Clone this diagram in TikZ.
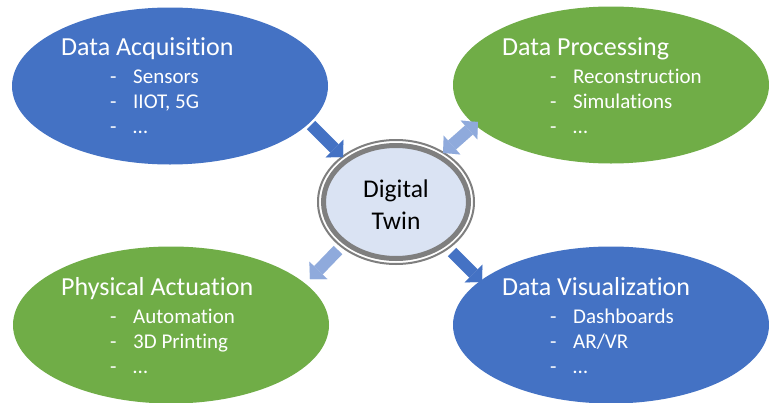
\documentclass[tikz,border=0pt]{standalone}
\usepackage{fontspec}
\setmainfont{Carlito}[Ligatures=NoCommon]
\usetikzlibrary{arrows.meta,shapes.geometric}
\definecolor{dblue}{HTML}{4472C4}
\definecolor{dgreen}{HTML}{70AD47}
\definecolor{lblue}{HTML}{8FAADC}
\definecolor{pale}{HTML}{DAE3F3}
\definecolor{ringgray}{HTML}{7F7F7F}
\begin{document}
\begin{tikzpicture}[x=1pt,y=-1pt,
  blob/.style={ellipse, inner sep=0pt, minimum width=316pt, minimum height=157pt, draw=none},
  ttl/.style={anchor=base west, inner sep=0pt, text=white, font=\fontsize{26}{30}\selectfont},
  itm/.style={anchor=base west, inner sep=0pt, text=white, font=\fontsize{21}{25}\selectfont},
  dtxt/.style={anchor=base, inner sep=0pt, text=black, font=\fontsize{25.5}{30}\selectfont},
  barrow/.style={line width=12pt, -{Triangle[length=12pt,width=25pt,line width=0.01pt]}},
  dbarrow/.style={line width=12pt, {Triangle[length=12pt,width=25pt,line width=0.01pt]}-{Triangle[length=12pt,width=25pt,line width=0.01pt]}}
]
\useasboundingbox (0,0) rectangle (769,402);
\fill[white] (0,0) rectangle (769,402);

% outer ellipses
\node[blob, fill=dblue]  (acq) at (170,86)  {};
\node[blob, fill=dgreen] (proc) at (611,85) {};
\node[blob, fill=dgreen] (act) at (171,325) {};
\node[blob, fill=dblue]  (vis) at (611,325) {};

% texts
\node[ttl] (acqT) at (61,55) {Data Acquisition};
\node[itm] (acq1) at (110,83)  {\makebox[23pt][l]{-}Sensors};
\node[itm] (acq2) at (110,108) {\makebox[23pt][l]{-}IIOT, 5G};
\node[itm] (acq3) at (110,133) {\makebox[23pt][l]{-}…};

\node[ttl] (procT) at (502,55) {Data Processing};
\node[itm] (proc1) at (550,83)  {\makebox[23pt][l]{-}Reconstruction};
\node[itm] (proc2) at (550,108) {\makebox[23pt][l]{-}Simulations};
\node[itm] (proc3) at (550,133) {\makebox[23pt][l]{-}…};

\node[ttl] (actT) at (61,295) {Physical Actuation};
\node[itm] (act1) at (110,323) {\makebox[23pt][l]{-}Automation};
\node[itm] (act2) at (110,348) {\makebox[23pt][l]{-}3D Printing};
\node[itm] (act3) at (110,373) {\makebox[23pt][l]{-}…};

\node[ttl] (visT) at (502,295) {Data Visualization};
\node[itm] (vis1) at (550,323) {\makebox[23pt][l]{-}Dashboards};
\node[itm] (vis2) at (550,348) {\makebox[23pt][l]{-}AR/VR};
\node[itm] (vis3) at (550,373) {\makebox[23pt][l]{-}…};

% center
\node[ellipse, inner sep=0pt, minimum width=156pt, minimum height=124pt, draw=ringgray, line width=2pt, fill=white] (dtout) at (396,202) {};
\node[ellipse, inner sep=0pt, minimum width=145pt, minimum height=113pt, draw=ringgray, line width=5pt, fill=pale] (dt) at (396,202) {};
\node[dtxt] (dt1) at (396,197) {Digital};
\node[dtxt] (dt2) at (396,229) {Twin};

% arrows
\coordinate (a1s) at (311,125);
\coordinate (a1e) at (343,157);
\coordinate (a2s) at (443,153);
\coordinate (a2e) at (478,122);
\coordinate (a3s) at (338,250);
\coordinate (a3e) at (310,279);
\coordinate (a4s) at (452,252);
\coordinate (a4e) at (482,282);
\draw[barrow, draw=dblue, fill=dblue] (a1s) -- (a1e);
\draw[dbarrow, draw=lblue, fill=lblue] (a2s) -- (a2e);
\draw[barrow, draw=lblue, fill=lblue] (a3s) -- (a3e);
\draw[barrow, draw=dblue, fill=dblue] (a4s) -- (a4e);
\end{tikzpicture}
\end{document}
